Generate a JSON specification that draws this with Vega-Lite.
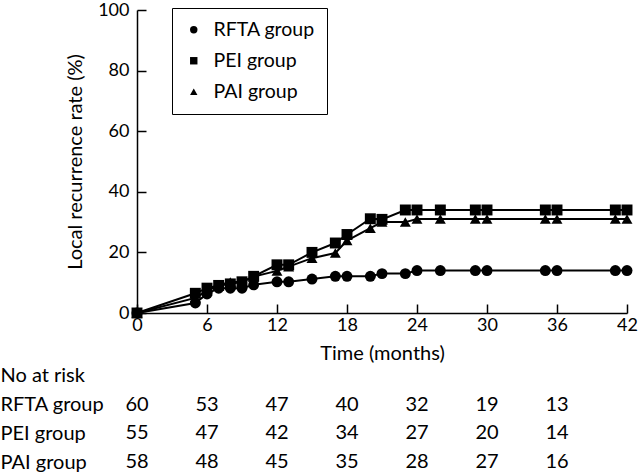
{
  "$schema": "https://vega.github.io/schema/vega-lite/v6.json",
  "padding": {"left": 0, "top": 1, "right": 5, "bottom": 0},
  "spacing": 2,
  "config": {
    "font": "Lato",
    "view": {"stroke": null},
    "axis": {"labelFontSize": 18, "titleFontSize": 20, "titleFontWeight": "normal", "labelColor": "black", "titleColor": "black", "domainColor": "black", "tickColor": "black", "grid": false, "domainWidth": 1.5, "tickWidth": 1.5}
  },
  "vconcat": [
    {
      "width": 490,
      "height": 303,
      "data": {"values": [
        {"group": "RFTA group", "time": 0, "rate": 0},
        {"group": "RFTA group", "time": 5, "rate": 3.3},
        {"group": "RFTA group", "time": 6, "rate": 6.3},
        {"group": "RFTA group", "time": 7, "rate": 8.2},
        {"group": "RFTA group", "time": 8, "rate": 8.2},
        {"group": "RFTA group", "time": 9, "rate": 8.2},
        {"group": "RFTA group", "time": 10, "rate": 9.3},
        {"group": "RFTA group", "time": 12, "rate": 10.3},
        {"group": "RFTA group", "time": 13, "rate": 10.3},
        {"group": "RFTA group", "time": 15, "rate": 11.2},
        {"group": "RFTA group", "time": 17, "rate": 12.1},
        {"group": "RFTA group", "time": 18, "rate": 12.1},
        {"group": "RFTA group", "time": 20, "rate": 12.1},
        {"group": "RFTA group", "time": 21, "rate": 13},
        {"group": "RFTA group", "time": 23, "rate": 13},
        {"group": "RFTA group", "time": 24, "rate": 14},
        {"group": "RFTA group", "time": 26, "rate": 14},
        {"group": "RFTA group", "time": 29, "rate": 14},
        {"group": "RFTA group", "time": 30, "rate": 14},
        {"group": "RFTA group", "time": 35, "rate": 14},
        {"group": "RFTA group", "time": 36, "rate": 14},
        {"group": "RFTA group", "time": 41, "rate": 14},
        {"group": "RFTA group", "time": 42, "rate": 14},
        {"group": "PEI group", "time": 0, "rate": 0},
        {"group": "PEI group", "time": 5, "rate": 6.5},
        {"group": "PEI group", "time": 6, "rate": 8.2},
        {"group": "PEI group", "time": 7, "rate": 9.1},
        {"group": "PEI group", "time": 8, "rate": 9.6},
        {"group": "PEI group", "time": 9, "rate": 10.3},
        {"group": "PEI group", "time": 10, "rate": 12.1},
        {"group": "PEI group", "time": 12, "rate": 15.9},
        {"group": "PEI group", "time": 13, "rate": 15.9},
        {"group": "PEI group", "time": 15, "rate": 20},
        {"group": "PEI group", "time": 17, "rate": 23.1},
        {"group": "PEI group", "time": 18, "rate": 25.9},
        {"group": "PEI group", "time": 20, "rate": 31.1},
        {"group": "PEI group", "time": 21, "rate": 30.9},
        {"group": "PEI group", "time": 23, "rate": 34},
        {"group": "PEI group", "time": 24, "rate": 34},
        {"group": "PEI group", "time": 26, "rate": 34},
        {"group": "PEI group", "time": 29, "rate": 34},
        {"group": "PEI group", "time": 30, "rate": 34},
        {"group": "PEI group", "time": 35, "rate": 34},
        {"group": "PEI group", "time": 36, "rate": 34},
        {"group": "PEI group", "time": 41, "rate": 34},
        {"group": "PEI group", "time": 42, "rate": 34},
        {"group": "PAI group", "time": 0, "rate": 0},
        {"group": "PAI group", "time": 5, "rate": 5},
        {"group": "PAI group", "time": 6, "rate": 7.3},
        {"group": "PAI group", "time": 7, "rate": 9.2},
        {"group": "PAI group", "time": 8, "rate": 10.2},
        {"group": "PAI group", "time": 9, "rate": 10.2},
        {"group": "PAI group", "time": 10, "rate": 12},
        {"group": "PAI group", "time": 12, "rate": 13.9},
        {"group": "PAI group", "time": 13, "rate": 15.3},
        {"group": "PAI group", "time": 15, "rate": 18.1},
        {"group": "PAI group", "time": 17, "rate": 19.8},
        {"group": "PAI group", "time": 18, "rate": 23.9},
        {"group": "PAI group", "time": 20, "rate": 28},
        {"group": "PAI group", "time": 21, "rate": 30},
        {"group": "PAI group", "time": 23, "rate": 30},
        {"group": "PAI group", "time": 24, "rate": 31},
        {"group": "PAI group", "time": 26, "rate": 31},
        {"group": "PAI group", "time": 29, "rate": 31},
        {"group": "PAI group", "time": 30, "rate": 31},
        {"group": "PAI group", "time": 35, "rate": 31},
        {"group": "PAI group", "time": 36, "rate": 31},
        {"group": "PAI group", "time": 41, "rate": 31},
        {"group": "PAI group", "time": 42, "rate": 31}
      ]},
      "encoding": {
        "x": {"field": "time", "type": "quantitative", "scale": {"domain": [0, 42], "nice": false},
              "axis": {"values": [0, 6, 12, 18, 24, 30, 36, 42], "title": "Time (months)", "tickSize": -9, "labelPadding": 12, "titlePadding": 9, "labelFlush": false}},
        "y": {"field": "rate", "type": "quantitative", "scale": {"domain": [0, 100], "nice": false},
              "axis": {"values": [0, 20, 40, 60, 80, 100], "title": "Local recurrence rate (%)", "tickSize": -9, "labelPadding": 17, "titlePadding": 12}}
      },
      "layer": [
        {"mark": {"type": "line", "color": "black", "strokeWidth": 2}, "encoding": {"detail": {"field": "group"}}},
        {"mark": {"type": "point", "filled": true, "color": "black", "opacity": 1, "size": 120},
         "encoding": {"shape": {"field": "group", "type": "nominal",
            "scale": {"domain": ["RFTA group", "PEI group", "PAI group"], "range": ["circle", "square", "triangle-up"]},
            "legend": {"title": null, "orient": "none", "legendX": 35, "legendY": -2, "strokeColor": "black", "padding": 12, "labelFontSize": 19.5, "labelColor": "black", "symbolSize": 55, "rowPadding": 10, "symbolFillColor": "black", "symbolStrokeColor": "black", "labelOffset": 10, "labelLimit": 300}}}}
      ]
    },
    {
      "width": 490,
      "height": 100,
      "data": {"values": [
        {"row": "RFTA group", "time": 0, "n": 60},
        {"row": "RFTA group", "time": 6, "n": 53},
        {"row": "RFTA group", "time": 12, "n": 47},
        {"row": "RFTA group", "time": 18, "n": 40},
        {"row": "RFTA group", "time": 24, "n": 32},
        {"row": "RFTA group", "time": 30, "n": 19},
        {"row": "RFTA group", "time": 36, "n": 13},
        {"row": "PEI group", "time": 0, "n": 55},
        {"row": "PEI group", "time": 6, "n": 47},
        {"row": "PEI group", "time": 12, "n": 42},
        {"row": "PEI group", "time": 18, "n": 34},
        {"row": "PEI group", "time": 24, "n": 27},
        {"row": "PEI group", "time": 30, "n": 20},
        {"row": "PEI group", "time": 36, "n": 14},
        {"row": "PAI group", "time": 0, "n": 58},
        {"row": "PAI group", "time": 6, "n": 48},
        {"row": "PAI group", "time": 12, "n": 45},
        {"row": "PAI group", "time": 18, "n": 35},
        {"row": "PAI group", "time": 24, "n": 28},
        {"row": "PAI group", "time": 30, "n": 27},
        {"row": "PAI group", "time": 36, "n": 16}
      ]},
      "mark": {"type": "text", "fontSize": 20, "color": "black", "align": "center", "baseline": "middle"},
      "encoding": {
        "x": {"field": "time", "type": "quantitative", "scale": {"domain": [0, 42], "nice": false}, "axis": null},
        "y": {"field": "row", "type": "ordinal",
              "scale": {"type": "point", "domain": ["No at risk", "RFTA group", "PEI group", "PAI group"], "padding": 0.24},
              "axis": {"title": null, "domain": false, "ticks": false, "labelAlign": "left", "labelPadding": 137, "labelLimit": 300, "labelFontSize": 20, "labelColor": "black"}},
        "text": {"field": "n", "type": "quantitative"}
      }
    }
  ]
}
